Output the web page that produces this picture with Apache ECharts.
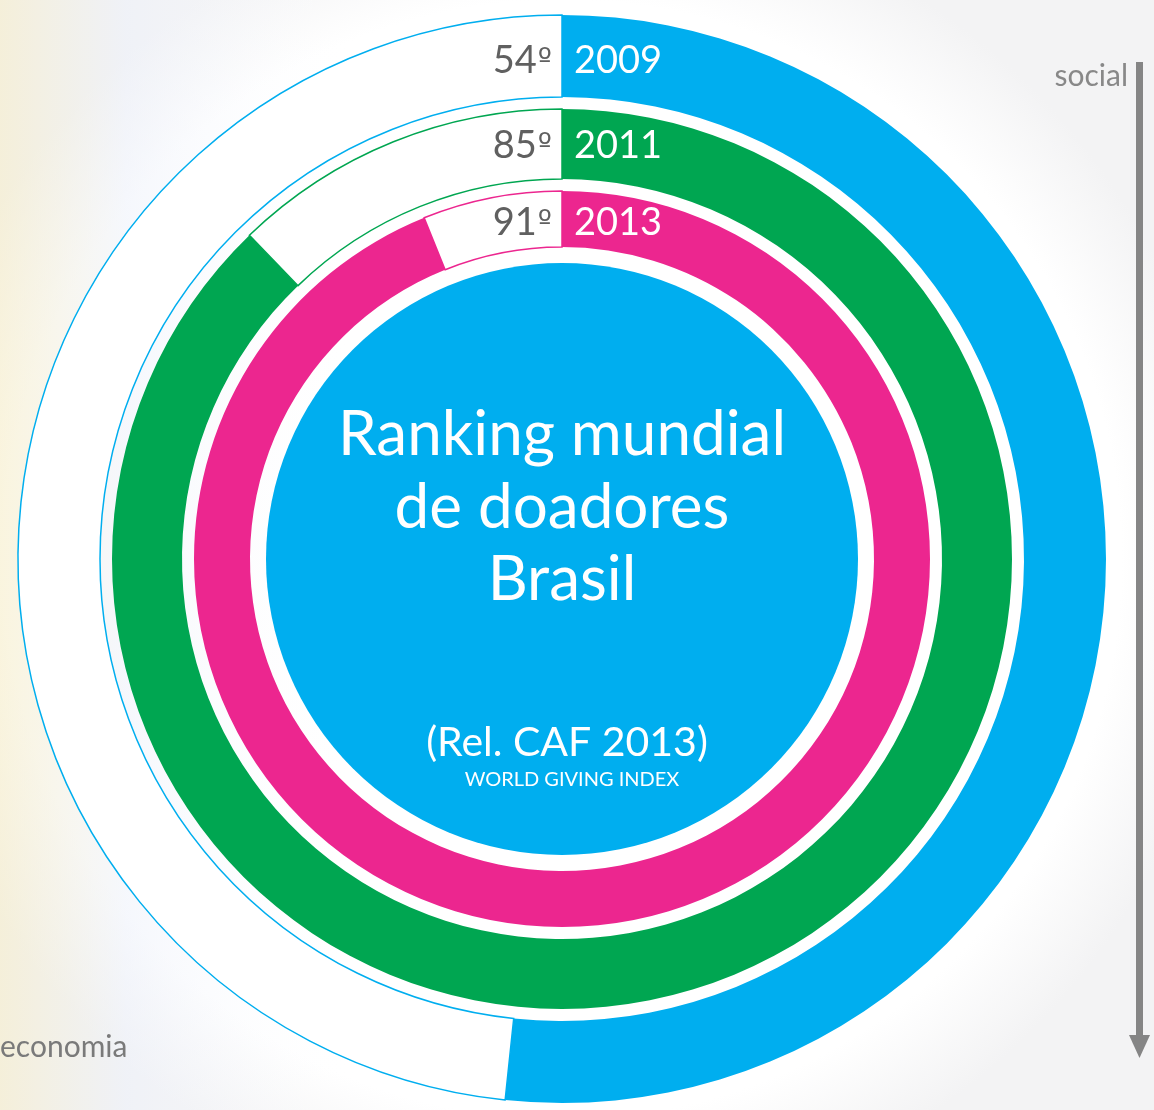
<!DOCTYPE html>
<html>
<head>
<meta charset="utf-8">
<script src="https://cdn.jsdelivr.net/npm/echarts@6/dist/echarts.min.js"></script>
<style>
  html, body { margin: 0; padding: 0; background: #f6f6f7; }
  #chart { width: 1154px; height: 1110px; }
</style>
</head>
<body>
<div id="chart"></div>
<script>
// rings, outermost first
const years = ['2009', '2011', '2013']
const ranks = ['54', '85', '91']
// filled arc of each ring, in degrees clockwise from the top
const arcDegrees = [186, 316, 338]

const colors = ['#00aeef', '#00a651', '#ec268f']
const ringRadius = [[462, 544], [380, 450], [312, 368]]
const labelY = [61, 146, 223]
const cx = 562
const cy = 559

const chart = echarts.init(document.getElementById('chart'))

const polar = []
const angleAxis = []
const radiusAxis = []
const series = []
years.forEach((year, i) => {
  polar.push({ center: [cx, cy], radius: ringRadius[i] })
  angleAxis.push({ polarIndex: i, type: 'value', min: 0, max: 360, startAngle: 90, clockwise: true, show: false })
  radiusAxis.push({ polarIndex: i, type: 'category', data: [year], show: false })
  series.push({
    type: 'bar',
    coordinateSystem: 'polar',
    polarIndex: i,
    stack: 'ring' + i,
    barWidth: '100%',
    silent: true,
    itemStyle: { color: colors[i] },
    data: [arcDegrees[i]],
  })
  series.push({
    type: 'bar',
    coordinateSystem: 'polar',
    polarIndex: i,
    stack: 'ring' + i,
    barWidth: '100%',
    silent: true,
    itemStyle: { color: '#ffffff', borderColor: colors[i], borderWidth: 1.5 },
    data: [360 - arcDegrees[i]],
  })
})

const font = 'Lato, "Open Sans", sans-serif'
const graphic = [
  {
    type: 'rect',
    z: -10,
    silent: true,
    shape: { x: 0, y: 0, width: 1154, height: 1110 },
    style: {
      fill: {
        type: 'radial', x: 0.487, y: 0.504, r: 0.6,
        colorStops: [
          { offset: 0, color: '#ffffff' },
          { offset: 0.84, color: '#ffffff' },
          { offset: 1, color: '#f3f3f4' },
        ],
      },
    },
  },
  {
    type: 'rect',
    z: -9,
    silent: true,
    shape: { x: 0, y: 0, width: 360, height: 1110 },
    style: {
      fill: {
        type: 'linear', x: 0, y: 0, x2: 1, y2: 0,
        colorStops: [
          { offset: 0, color: 'rgba(246,236,196,0.55)' },
          { offset: 0.35, color: 'rgba(236,240,250,0.5)' },
          { offset: 1, color: 'rgba(255,255,255,0)' },
        ],
      },
    },
  },
  {
    type: 'circle',
    z: 5,
    silent: true,
    shape: { cx: cx, cy: cy, r: 296 },
    style: { fill: '#00aeef' },
  },
  {
    type: 'text', z: 10, x: cx, y: 435,
    style: { text: 'Ranking mundial', font: '62px ' + font, fill: '#fff', align: 'center', verticalAlign: 'middle' },
  },
  {
    type: 'text', z: 10, x: cx, y: 508,
    style: { text: 'de doadores', font: '62px ' + font, fill: '#fff', align: 'center', verticalAlign: 'middle' },
  },
  {
    type: 'text', z: 10, x: cx, y: 580,
    style: { text: 'Brasil', font: '62px ' + font, fill: '#fff', align: 'center', verticalAlign: 'middle' },
  },
  {
    type: 'text', z: 10, x: 567, y: 743,
    style: { text: '(Rel. CAF 2013)', font: '41px ' + font, fill: '#fff', align: 'center', verticalAlign: 'middle' },
  },
  {
    type: 'text', z: 10, x: 572, y: 780,
    style: { text: 'WORLD GIVING INDEX', font: '20px ' + font, fill: '#fff', align: 'center', verticalAlign: 'middle' },
  },
  {
    type: 'text', z: 10, x: 1128, y: 76,
    style: { text: 'social', font: '30px ' + font, fill: '#888888', align: 'right', verticalAlign: 'middle' },
  },
  {
    type: 'text', z: 10, x: 0, y: 1047,
    style: { text: 'economia', font: '30px ' + font, fill: '#7a7a7a', align: 'left', verticalAlign: 'middle' },
  },
  {
    type: 'rect', z: 10, silent: true,
    shape: { x: 1136, y: 62, width: 7, height: 976 },
    style: { fill: '#858585' },
  },
  {
    type: 'polygon', z: 10, silent: true,
    shape: { points: [[1129, 1035], [1150, 1035], [1139.5, 1058]] },
    style: { fill: '#858585' },
  },
]

years.forEach((year, i) => {
  graphic.push({
    type: 'text', z: 10, x: cx - 10, y: labelY[i],
    style: {
      text: '{n|' + ranks[i] + '}{o|º}',
      align: 'right',
      verticalAlign: 'middle',
      rich: {
        n: { font: '38px ' + font, fill: '#606060' },
        o: { font: '30px "DejaVu Sans"', fill: '#606060', padding: [0, 0, 0, 1] },
      },
    },
  })
  graphic.push({
    type: 'text', z: 10, x: cx + 12, y: labelY[i],
    style: { text: year, font: '38px ' + font, fill: '#ffffff', align: 'left', verticalAlign: 'middle' },
  })
})

chart.setOption({
  backgroundColor: '#f6f6f7',
  animation: false,
  polar: polar,
  angleAxis: angleAxis,
  radiusAxis: radiusAxis,
  series: series,
  graphic: graphic,
})
</script>
</body>
</html>
